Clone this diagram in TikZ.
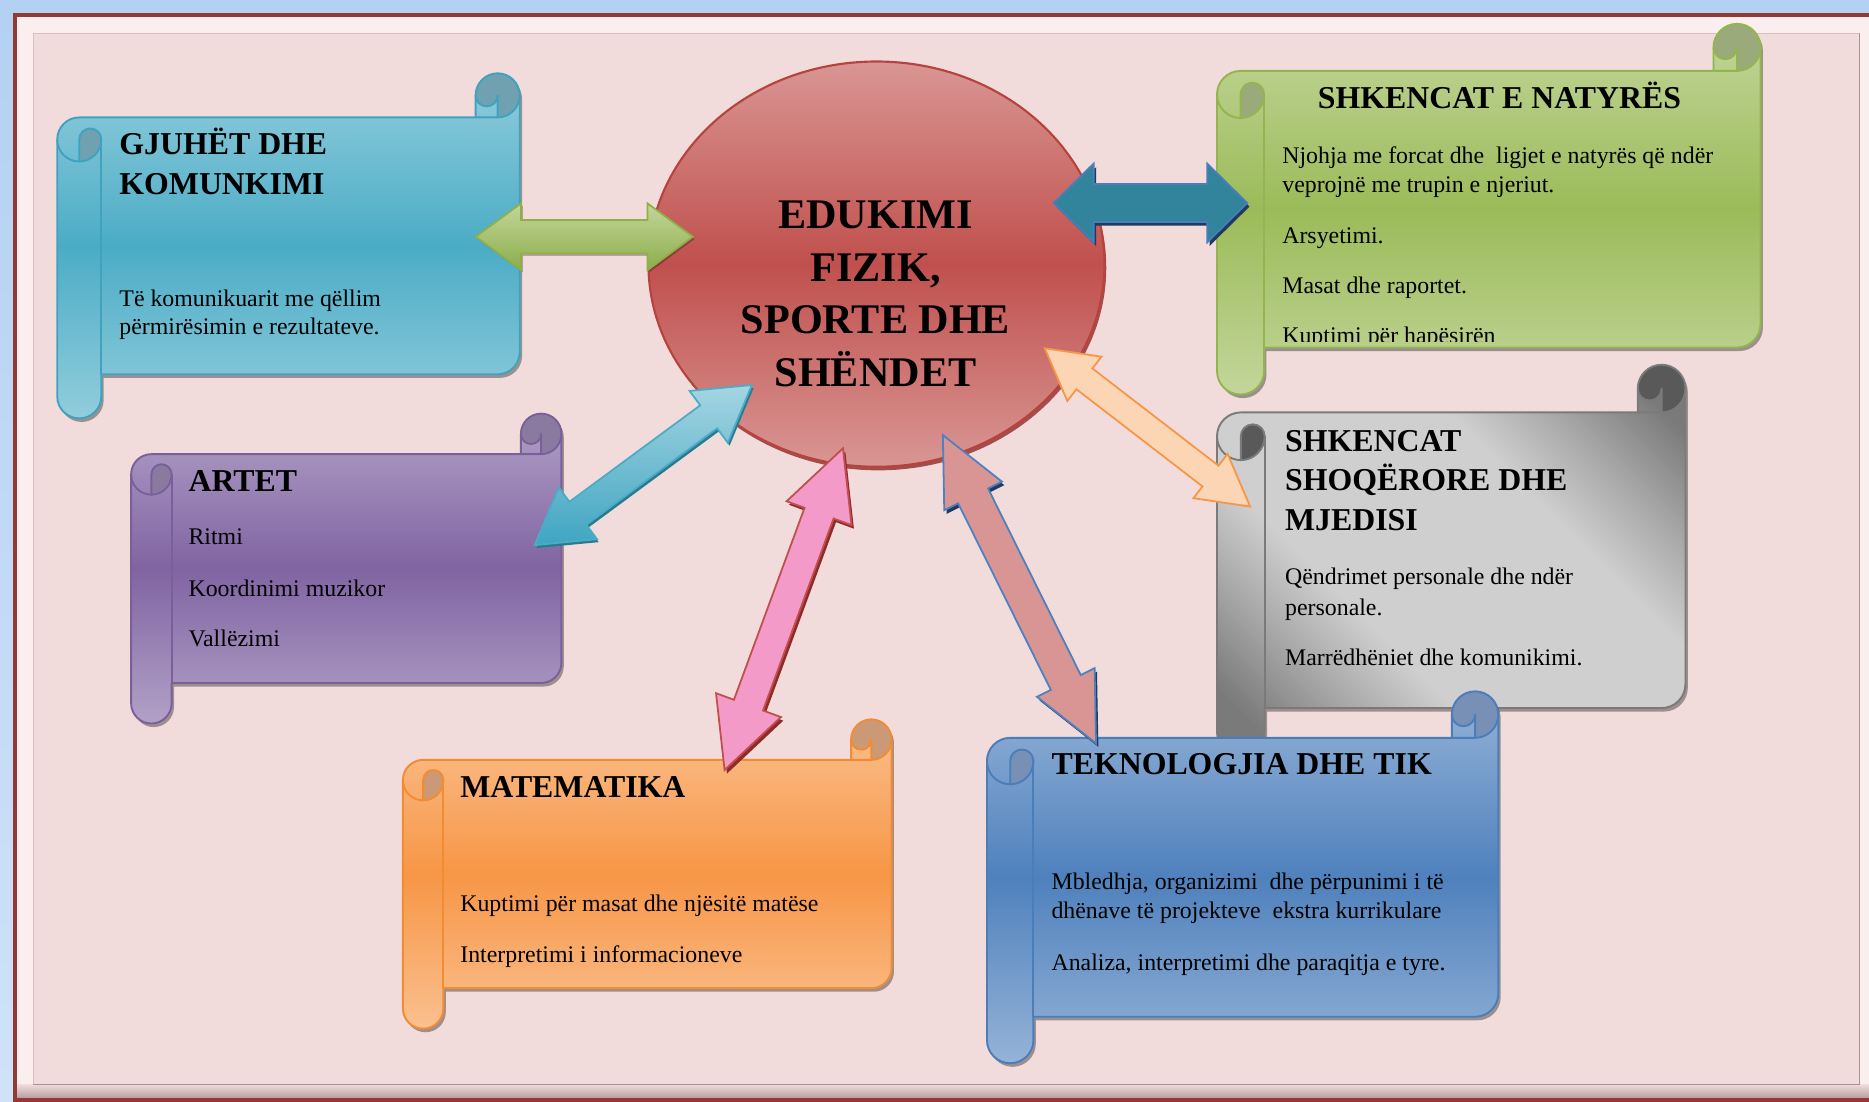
\documentclass[tikz,border=0pt]{standalone}
\usepackage{fontspec}
\setmainfont{Liberation Serif}
\usetikzlibrary{calc,shapes.geometric,shadows}

\definecolor{frBlueT}{HTML}{B3D1F3}
\definecolor{frBlueB}{HTML}{CFE2F8}
\definecolor{frRed}{HTML}{953735}
\definecolor{bevelL}{HTML}{FAEEEE}
\definecolor{bevelB1}{HTML}{EFD9DA}
\definecolor{bevelB2}{HTML}{B9A0A2}
\definecolor{pinkbg}{HTML}{F2DCDB}
\definecolor{innerln}{HTML}{D8C0C2}
\definecolor{innerdk}{HTML}{A89294}

\definecolor{bluL}{HTML}{92CDDC}\definecolor{bluM}{HTML}{4BACC6}\definecolor{bluLine}{HTML}{3FA3C0}\definecolor{bluCurl}{HTML}{6FA1B0}
\definecolor{purL}{HTML}{B2A1C7}\definecolor{purM}{HTML}{8064A2}\definecolor{purLine}{HTML}{7A5F9A}\definecolor{purCurl}{HTML}{8A7AA0}
\definecolor{oraL}{HTML}{FAC08F}\definecolor{oraM}{HTML}{F79646}\definecolor{oraLine}{HTML}{F38B33}\definecolor{oraCurl}{HTML}{CB9975}
\definecolor{bltL}{HTML}{95B3D7}\definecolor{bltM}{HTML}{4F81BD}\definecolor{bltLine}{HTML}{4A7EBB}\definecolor{bltCurl}{HTML}{7890B5}
\definecolor{grnL}{HTML}{C3D69B}\definecolor{grnM}{HTML}{9BBB59}\definecolor{grnLine}{HTML}{93B550}\definecolor{grnCurl}{HTML}{9BAA7B}
\definecolor{gryA}{HTML}{CFCFCF}\definecolor{gryB}{HTML}{ABABAB}\definecolor{gryC}{HTML}{7A7A7A}
\definecolor{gryLine}{HTML}{7A7A7A}\definecolor{gryCurl}{HTML}{595959}

\definecolor{ellL}{HTML}{D99694}\definecolor{ellM}{HTML}{C0504D}\definecolor{ellLine}{HTML}{B8423E}\definecolor{ellSh}{HTML}{8E2B28}

\definecolor{arGreenT}{HTML}{C3D69B}\definecolor{arGreenB}{HTML}{8CAD4A}\definecolor{arGreenLn}{HTML}{8EB046}
\definecolor{arTeal}{HTML}{31849B}\definecolor{arTealLn}{HTML}{4A7EBB}\definecolor{arNavy}{HTML}{1F3B5E}
\definecolor{arCyanT}{HTML}{A5D5E2}\definecolor{arCyanB}{HTML}{3FA5C2}\definecolor{arCyanLn}{HTML}{4BACC6}\definecolor{arCyanSh}{HTML}{2A7A90}
\definecolor{arPink}{HTML}{F49AC8}\definecolor{arPinkLn}{HTML}{C0504D}
\definecolor{arRose}{HTML}{D99594}\definecolor{arRoseLn}{HTML}{4F81BD}
\definecolor{arPeach}{HTML}{FCD5B5}\definecolor{arPeachLn}{HTML}{F79646}

\pgfdeclareverticalshading{greydiag}{100bp}{color(0bp)=(gryC); color(20bp)=(gryC); color(30bp)=(gryB); color(38bp)=(gryA); color(62bp)=(gryA); color(70bp)=(gryB); color(80bp)=(gryC); color(100bp)=(gryC)}

\newcommand{\soutline}{(\sL,\sBTh) arc[start angle=180,end angle=270,radius=\sh] -- (\sRa,\sBT) -- (\sRa,\sTh) arc[start angle=180,end angle=360,radius=\sh] -- (\sR,\sBBh) arc[start angle=0,end angle=90,radius=\sh] -- (\sLa,\sBB) -- (\sLa,\sRBh) arc[start angle=0,end angle=180,radius=\sh] -- cycle}

% #1 L, #2 T, #3 R, #4 roll bottom, #5 roll width, #6 fill options, #7 line colour, #8 curl colour
\newcommand{\scrollshape}[8]{%
 \pgfmathsetmacro\sL{#1}%
 \pgfmathsetmacro\sT{#2}%
 \pgfmathsetmacro\sR{#3}%
 \pgfmathsetmacro\sRB{#4}%
 \pgfmathsetmacro\sh{#5/2}%
 \pgfmathsetmacro\sq{#5/4}%
 \pgfmathsetmacro\sBT{#2+#5}%
 \pgfmathsetmacro\sBB{#4-#5}%
 \pgfmathsetmacro\sLh{#1+#5/2}%
 \pgfmathsetmacro\sLa{#1+#5}%
 \pgfmathsetmacro\sRa{#3-#5}%
 \pgfmathsetmacro\sRh{#3-#5/2}%
 \pgfmathsetmacro\sTh{#2+#5/2}%
 \pgfmathsetmacro\sBTh{#2+1.5*#5}%
 \pgfmathsetmacro\sBTa{#2+2*#5}%
 \pgfmathsetmacro\sBBh{#4-1.5*#5}%
 \pgfmathsetmacro\sRBh{#4-#5/2}%
 \fill[black,opacity=.35,transform canvas={shift={(2pt,-3pt)}}] \soutline;
 \path[#6] \soutline;
 \fill[#8] (\sLh,\sBTa) arc[start angle=90,end angle=0,radius=\sh] arc[start angle=0,end angle=-180,radius=\sq] -- cycle;
 \fill[#8] (\sRh,\sBT) arc[start angle=90,end angle=-180,radius=\sh] arc[start angle=180,end angle=0,radius=\sq] -- cycle;
 \draw[#7,scrollline] \soutline;
 \draw[#7,scrollline] (\sLa,\sBTh) arc[start angle=0,end angle=180,radius=\sh];
 \draw[#7,scrollline] (\sLa,\sBTh) arc[start angle=0,end angle=-180,radius=\sq] -- (\sLh,\sBTa);
 \draw[#7,scrollline] (\sLa,\sBTh) -- (\sLa,\sBB);
 \draw[#7,scrollline] (\sRa,\sBT) -- (\sRh,\sBT) arc[start angle=90,end angle=0,radius=\sh];
 \draw[#7,scrollline] (\sRh,\sBT) -- (\sRh,\sTh) arc[start angle=0,end angle=180,radius=\sq];
}

% #1 tip A, #2 tip B, #3 shaft half width, #4 head half width, #5 head length, #6 style
\newcommand{\dblarrow}[6]{%
 \path[#6] (#1) -- ($(#1)!#5!(#2)!#4!90:(#2)$) -- ($(#1)!#5!(#2)!#3!90:(#2)$)
  -- ($(#2)!#5!(#1)!#3!-90:(#1)$) -- ($(#2)!#5!(#1)!#4!-90:(#1)$) -- (#2)
  -- ($(#2)!#5!(#1)!#4!90:(#1)$) -- ($(#2)!#5!(#1)!#3!90:(#1)$)
  -- ($(#1)!#5!(#2)!#3!-90:(#2)$) -- ($(#1)!#5!(#2)!#4!-90:(#2)$) -- cycle;
}

\begin{document}
\begin{tikzpicture}[x=1pt,y=-1pt,
  scrollline/.style={line width=1.6pt,line join=round},
  ttl/.style={font=\bfseries\fontsize{26.7}{32}\selectfont,anchor=base west,inner sep=0pt},
  bdy/.style={font=\fontsize{20}{24}\selectfont,anchor=base west,inner sep=0pt},
  ctr/.style={font=\bfseries\fontsize{35.4}{44}\selectfont,anchor=base,inner sep=0pt},
  arrline/.style={line width=1.5pt,line join=miter}]
\useasboundingbox (0,0) rectangle (1568,924);

% ---------- frame ----------
\shade[top color=frBlueT,bottom color=frBlueB] (0,0) rectangle (1568,924);
\fill[bevelL] (12.5,12.5) rectangle (1600,922.5);
\shade[top color=bevelB1,bottom color=bevelB2] (14,910) rectangle (1600,921);
\fill[pinkbg] (28,28) rectangle (1560,910);
\draw[innerln,line width=1pt] (28,910) -- (28,28) -- (1560,28);
\draw[innerdk,line width=1.2pt] (1560,28) -- (1560,910) -- (28,910);
\draw[frRed,line width=3.5pt] (1600,12.5) -- (12.5,12.5) -- (12.5,922.5) -- (1600,922.5);

% ---------- scrolls ----------
\scrollshape{1021}{306}{1414}{634}{40}{shading=greydiag,shading angle=-45}{gryLine}{gryCurl}
\scrollshape{1021}{20}{1477}{331}{39.5}{top color=grnL,bottom color=grnL,middle color=grnM}{grnLine}{grnCurl}
\scrollshape{48}{61.5}{436}{351}{37}{top color=bluL,bottom color=bluL,middle color=bluM}{bluLine}{bluCurl}
\scrollshape{110}{347}{471}{607}{34}{top color=purL,bottom color=purL,middle color=purM}{purLine}{purCurl}
\scrollshape{338}{603.5}{748}{863}{34}{top color=oraL,bottom color=oraL,middle color=oraM}{oraLine}{oraCurl}
\scrollshape{828}{580}{1257}{892}{39}{top color=bltL,bottom color=bltL,middle color=bltM}{bltLine}{bltCurl}

% ---------- centre ----------
\node[ellipse,minimum width=382.6pt,minimum height=340pt,inner sep=0pt,
      top color=ellL,bottom color=ellL,middle color=ellM,draw=ellLine,line width=1.8pt,
      drop shadow={shadow xshift=1.5pt,shadow yshift=-3pt,fill=ellSh,opacity=.8}] (edu) at (735.3,221.6) {};
\node[ctr] (edu1) at (734.5,191.6) {EDUKIMI};
\node[ctr] (edu2) at (734.5,235.9) {FIZIK,};
\node[ctr] (edu3) at (734.5,280.2) {SPORTE DHE};
\node[ctr] (edu4) at (734.5,324.4) {SHËNDET};

% ---------- arrows ----------
\coordinate (gA) at (399.1,198.6); \coordinate (gB) at (581.2,198.6);
\coordinate (tA) at (884,170.3);   \coordinate (tB) at (1046.3,170.3);
\coordinate (cA) at (448.6,457.3); \coordinate (cB) at (630.8,323);
\coordinate (pA) at (607.9,646);   \coordinate (pB) at (707.2,376.1);
\coordinate (rA) at (791,365);     \coordinate (rB) at (919.5,623.6);
\coordinate (eA) at (876.5,292.2); \coordinate (eB) at (1048.8,425);

\dblarrow{gA}{gB}{14pt}{28pt}{38pt}{fill=black,opacity=.25,transform canvas={shift={(1.5pt,-2pt)}}}
\dblarrow{gA}{gB}{14pt}{28pt}{38pt}{top color=arGreenT,bottom color=arGreenB,draw=arGreenLn,arrline}
\dblarrow{tA}{tB}{16pt}{33pt}{33.5pt}{fill=arNavy,transform canvas={shift={(2pt,-3pt)}}}
\dblarrow{tA}{tB}{16pt}{33pt}{33.5pt}{fill=arTeal,draw=arTealLn,arrline}
\dblarrow{cA}{cB}{12pt}{27pt}{45pt}{fill=arCyanSh,transform canvas={shift={(1.5pt,-2.5pt)}}}
\dblarrow{cA}{cB}{12pt}{27pt}{45pt}{top color=arCyanT,bottom color=arCyanB,draw=arCyanLn,arrline}
\dblarrow{pA}{pB}{13pt}{29pt}{58pt}{fill=ellSh,transform canvas={shift={(2pt,-3pt)}}}
\dblarrow{pA}{pB}{13pt}{29pt}{58pt}{fill=arPink,draw=arPinkLn,arrline}
\dblarrow{rA}{rB}{14pt}{27pt}{57pt}{fill=arNavy,transform canvas={shift={(2pt,-3pt)}}}
\dblarrow{rA}{rB}{14pt}{27pt}{57pt}{fill=arRose,draw=arRoseLn,arrline}
\dblarrow{eA}{eB}{11pt}{23.5pt}{42pt}{fill=arPeach,draw=arPeachLn,arrline}

% ---------- texts ----------
\node[ttl] (gj1) at (100,130) {GJUHËT DHE};
\node[ttl] (gj2) at (100,163) {KOMUNKIMI};
\node[bdy] (gj3) at (100,257) {Të komunikuarit me qëllim};
\node[bdy] (gj4) at (100,281) {përmirësimin e rezultateve.};

\node[ttl,anchor=base] (sn0) at (1258,91) {SHKENCAT E NATYRËS};
\node[bdy] (sn1) at (1075.6,137) {Njohja me forcat dhe\ \ ligjet e natyrës që ndër};
\node[bdy] (sn2) at (1075.6,161.7) {veprojnë me trupin e njeriut.};
\node[bdy] (sn3) at (1075.6,204) {Arsyetimi.};
\node[bdy] (sn4) at (1075.6,246) {Masat dhe raportet.};
\begin{scope}
\clip (1060,250) rectangle (1470,286.5);
\node[bdy] (sn5) at (1075.6,288) {Kuptimi për hapësirën};
\end{scope}

\node[ttl] (ss1) at (1078,379) {SHKENCAT};
\node[ttl] (ss2) at (1078,411.5) {SHOQËRORE DHE};
\node[ttl] (ss3) at (1078,444.7) {MJEDISI};
\node[bdy] (ss4) at (1078,490) {Qëndrimet personale dhe ndër};
\node[bdy] (ss5) at (1078,516) {personale.};
\node[bdy] (ss6) at (1078,558) {Marrëdhëniet dhe komunikimi.};

\node[ttl] (ar0) at (158,412.5) {ARTET};
\node[bdy] (ar1) at (158,457) {Ritmi};
\node[bdy] (ar2) at (158,500.6) {Koordinimi muzikor};
\node[bdy] (ar3) at (158,542.6) {Vallëzimi};

\node[ttl] (ma0) at (386,669) {MATEMATIKA};
\node[bdy] (ma1) at (386,765) {Kuptimi për masat dhe njësitë matëse};
\node[bdy] (ma2) at (386,807.4) {Interpretimi i informacioneve};

\node[ttl] (te0) at (882,650) {TEKNOLOGJIA DHE TIK};
\node[bdy] (te1) at (882,746) {Mbledhja, organizimi\ \ dhe përpunimi i të};
\node[bdy] (te2) at (882,770.5) {dhënave të projekteve\ \ ekstra kurrikulare};
\node[bdy] (te3) at (882,813.8) {Analiza, interpretimi dhe paraqitja e tyre.};
\end{tikzpicture}
\end{document}
